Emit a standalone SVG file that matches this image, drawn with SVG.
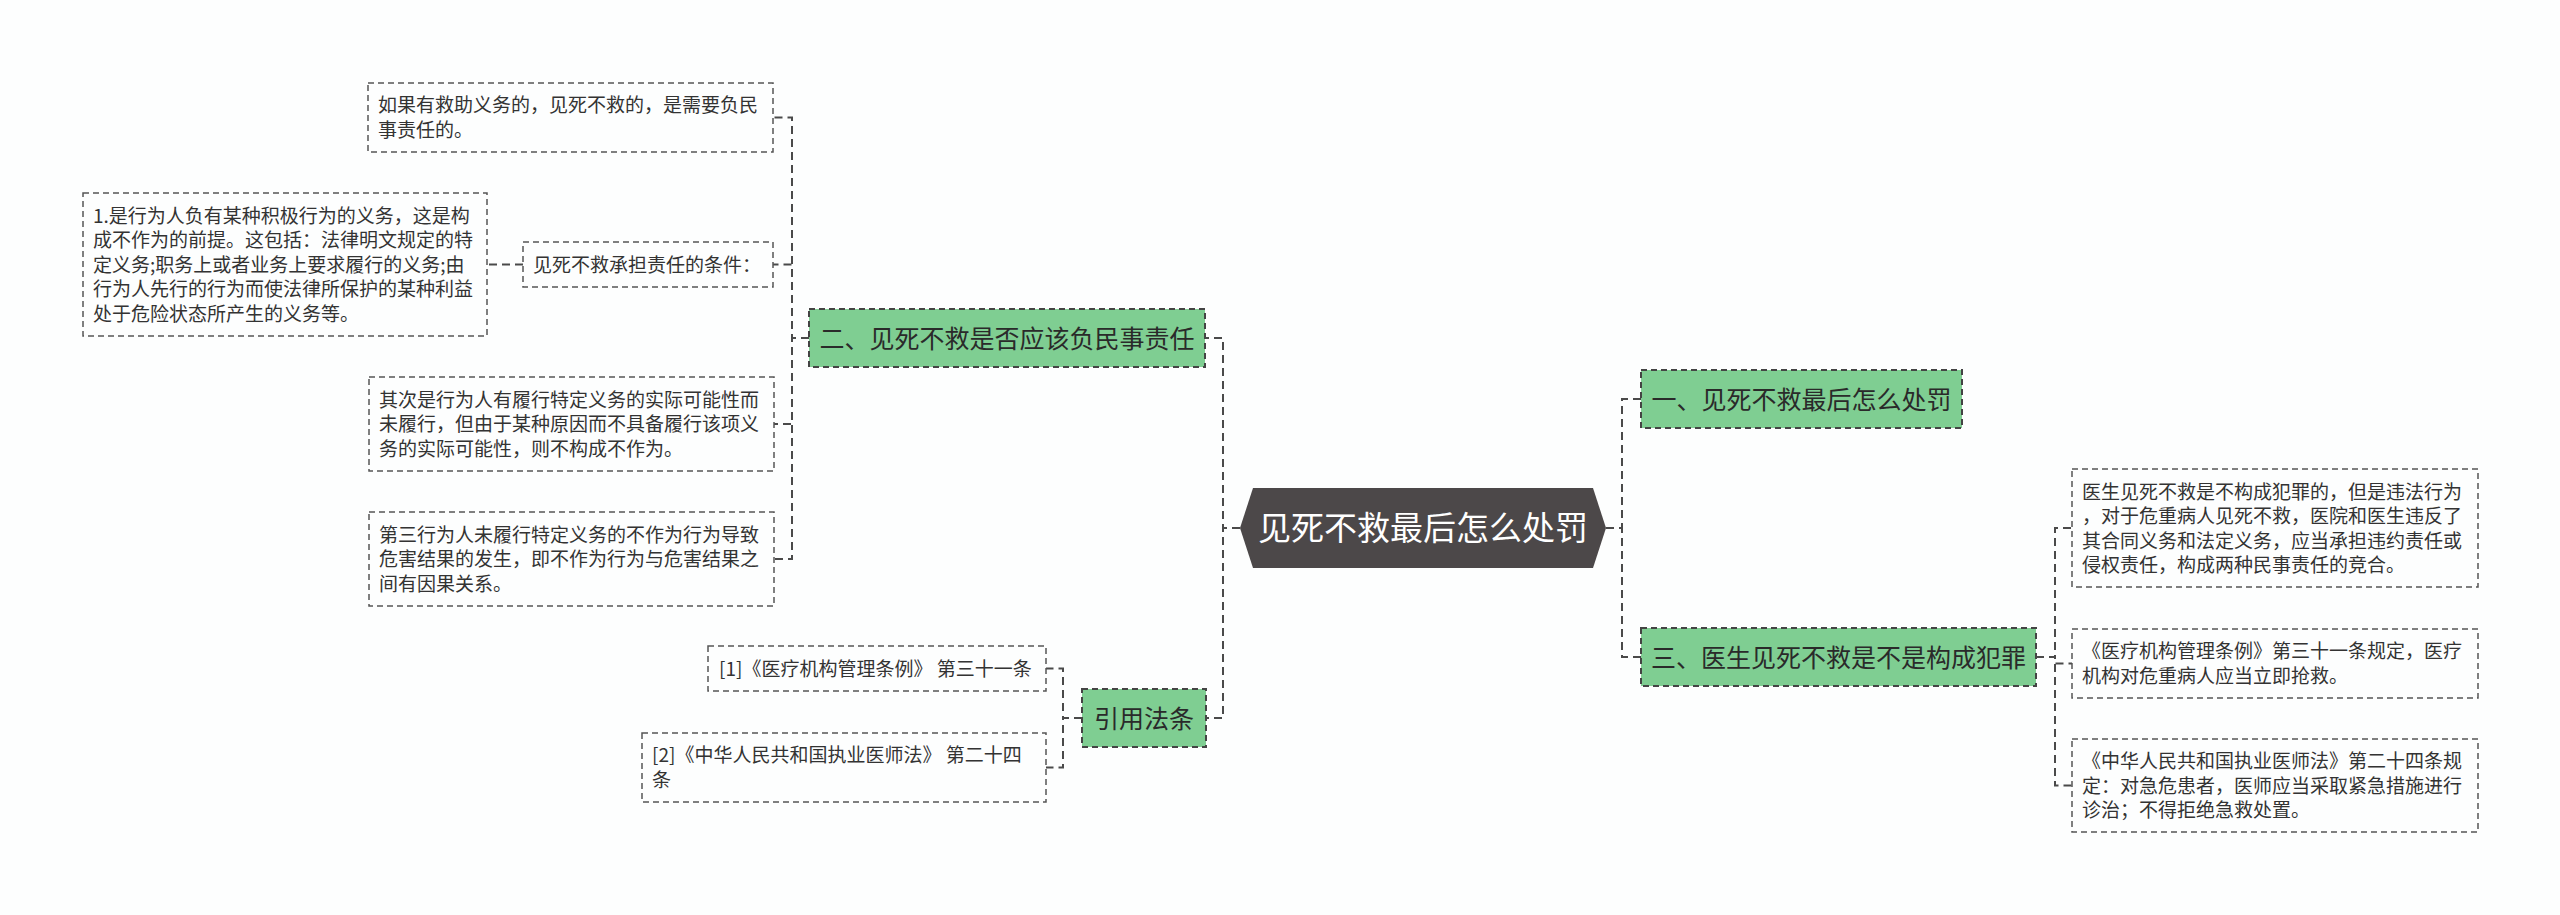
<svg xmlns="http://www.w3.org/2000/svg" width="2560" height="915" viewBox="0 0 2560 915">
<style>
.leaf{fill:#fdfefe;stroke:#555;stroke-width:1.5;stroke-dasharray:6 4}
.br{fill:#7fce92;stroke:#444;stroke-width:2;stroke-dasharray:6 4}
.t{font-family:"Noto Sans CJK SC","Liberation Sans",sans-serif;fill:#333}
.lt{font-size:19px}
.bt{font-size:25px;text-anchor:middle;fill:#2a2a2a}
.ct{font-size:33px;text-anchor:middle;fill:#fff}
.cn{fill:none;stroke:#4a4a4a;stroke-width:2;stroke-dasharray:8 5}
</style>
<rect width="2560" height="915" fill="#fdfefe"/>
<g id="connectors">
<path class="cn" d="M1606,528 H1622 V399 H1641"/>
<path class="cn" d="M1606,528 H1622 V657 H1641"/>
<path class="cn" d="M1240,528 H1223 V338 H1205"/>
<path class="cn" d="M1240,528 H1223 V718 H1206"/>
<path class="cn" d="M809,338 H792 V117.5 H773"/>
<path class="cn" d="M809,338 H792 V264.5 H773"/>
<path class="cn" d="M809,338 H792 V424 H774"/>
<path class="cn" d="M809,338 H792 V559 H774"/>
<path class="cn" d="M523,264.5 H487"/>
<path class="cn" d="M1082,718 H1063 V668.5 H1046"/>
<path class="cn" d="M1082,718 H1063 V767.5 H1046"/>
<path class="cn" d="M2036,657 H2055 V528 H2072"/>
<path class="cn" d="M2036,657 H2055 V663.5 H2072"/>
<path class="cn" d="M2036,657 H2055 V785.5 H2072"/>
</g>
<g id="center">
<polygon points="1240,528 1253,488 1593,488 1606,528 1593,568 1253,568" fill="#4c4849"/>
<text class="t ct" x="1423" y="540">见死不救最后怎么处罚</text>
</g>
<g id="b1">
<rect class="br" x="1641" y="370" width="321" height="58"/>
<text class="t bt" x="1801.5" y="408.5">一、见死不救最后怎么处罚</text>
</g>
<g id="b3">
<rect class="br" x="1641" y="628" width="395" height="58"/>
<text class="t bt" x="1838.5" y="666.5">三、医生见死不救是不是构成犯罪</text>
</g>
<g id="b2">
<rect class="br" x="809" y="309" width="396" height="58"/>
<text class="t bt" x="1007" y="347.5">二、见死不救是否应该负民事责任</text>
</g>
<g id="bref">
<rect class="br" x="1082" y="689" width="124" height="58"/>
<text class="t bt" x="1144" y="727.5">引用法条</text>
</g>
<g id="l_ruguo">
<rect class="leaf" x="368" y="83" width="405" height="69"/>
<text class="t lt" x="378"><tspan x="378" y="112">如果有救助义务的，见死不救的，是需要负民</tspan><tspan x="378" y="136.5">事责任的。</tspan></text>
</g>
<g id="l_tiaojian">
<rect class="leaf" x="523" y="242" width="250" height="45"/>
<text class="t lt" x="533" y="271.5">见死不救承担责任的条件：</text>
</g>
<g id="l_one">
<rect class="leaf" x="83" y="193" width="404" height="143"/>
<text class="t lt"><tspan x="93" y="222.5">1.是行为人负有某种积极行为的义务，这是构</tspan><tspan x="93" y="247">成不作为的前提。这包括：法律明文规定的特</tspan><tspan x="93" y="271.5">定义务;职务上或者业务上要求履行的义务;由</tspan><tspan x="93" y="296">行为人先行的行为而使法律所保护的某种利益</tspan><tspan x="93" y="320.5">处于危险状态所产生的义务等。</tspan></text>
</g>
<g id="l_qici">
<rect class="leaf" x="369" y="377" width="405" height="94"/>
<text class="t lt"><tspan x="379" y="406.5">其次是行为人有履行特定义务的实际可能性而</tspan><tspan x="379" y="431">未履行，但由于某种原因而不具备履行该项义</tspan><tspan x="379" y="455.5">务的实际可能性，则不构成不作为。</tspan></text>
</g>
<g id="l_disan">
<rect class="leaf" x="369" y="512" width="405" height="94"/>
<text class="t lt"><tspan x="379" y="541.5">第三行为人未履行特定义务的不作为行为导致</tspan><tspan x="379" y="566">危害结果的发生，即不作为行为与危害结果之</tspan><tspan x="379" y="590.5">间有因果关系。</tspan></text>
</g>
<g id="l_ref1">
<rect class="leaf" x="708" y="646" width="338" height="45"/>
<text class="t lt" x="719" y="675.5">[1]《医疗机构管理条例》 第三十一条</text>
</g>
<g id="l_ref2">
<rect class="leaf" x="642" y="733" width="404" height="69"/>
<text class="t lt"><tspan x="652" y="762">[2]《中华人民共和国执业医师法》 第二十四</tspan><tspan x="652" y="786.5">条</tspan></text>
</g>
<g id="r_a">
<rect class="leaf" x="2072" y="469" width="406" height="118"/>
<text class="t lt"><tspan x="2082" y="498.5">医生见死不救是不构成犯罪的，但是违法行为</tspan><tspan x="2082" y="523">，对于危重病人见死不救，医院和医生违反了</tspan><tspan x="2082" y="547.5">其合同义务和法定义务，应当承担违约责任或</tspan><tspan x="2082" y="572">侵权责任，构成两种民事责任的竞合。</tspan></text>
</g>
<g id="r_b">
<rect class="leaf" x="2072" y="629" width="406" height="69"/>
<text class="t lt"><tspan x="2082" y="658">《医疗机构管理条例》第三十一条规定，医疗</tspan><tspan x="2082" y="682.5">机构对危重病人应当立即抢救。</tspan></text>
</g>
<g id="r_c">
<rect class="leaf" x="2072" y="739" width="406" height="93"/>
<text class="t lt"><tspan x="2082" y="768">《中华人民共和国执业医师法》第二十四条规</tspan><tspan x="2082" y="792.5">定：对急危患者，医师应当采取紧急措施进行</tspan><tspan x="2082" y="817">诊治；不得拒绝急救处置。</tspan></text>
</g>
</svg>
